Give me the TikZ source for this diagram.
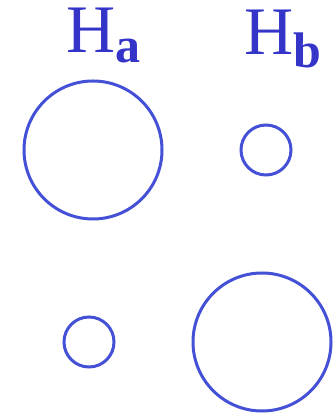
\documentclass[tikz,border=0pt]{standalone}
\usepackage{fontspec}
\setmainfont{Liberation Serif}
\usetikzlibrary{positioning}
\definecolor{hlabel}{HTML}{3434C8}
\definecolor{ringcol}{HTML}{4450D6}
\newcommand{\hname}[2]{{\fontsize{68}{70}\selectfont H\raisebox{-#2pt}{\fontsize{50}{50}\selectfont\bfseries #1}}}
\begin{document}
\begin{tikzpicture}[x=1pt,y=1pt,
  ring/.style={circle,draw=ringcol,line width=3pt,inner sep=0pt},
  hlab/.style={anchor=base west,inner sep=0pt,text=hlabel}]
 \useasboundingbox (0,0) rectangle (332,414);
 \node[hlab] (laba) at (66,361) {\hname{a}{10}};
 \node[hlab] (labb) at (244,359) {\hname{b}{13}};
 \node[ring,minimum size=138pt] (abig) at (93,264) {};
 \node[ring,minimum size=50pt] (bsmall) at (266,264) {};
 \node[ring,minimum size=50pt] (asmall) at (89,72) {};
 \node[ring,minimum size=138pt] (bbig) at (262,72) {};
\end{tikzpicture}
\end{document}
